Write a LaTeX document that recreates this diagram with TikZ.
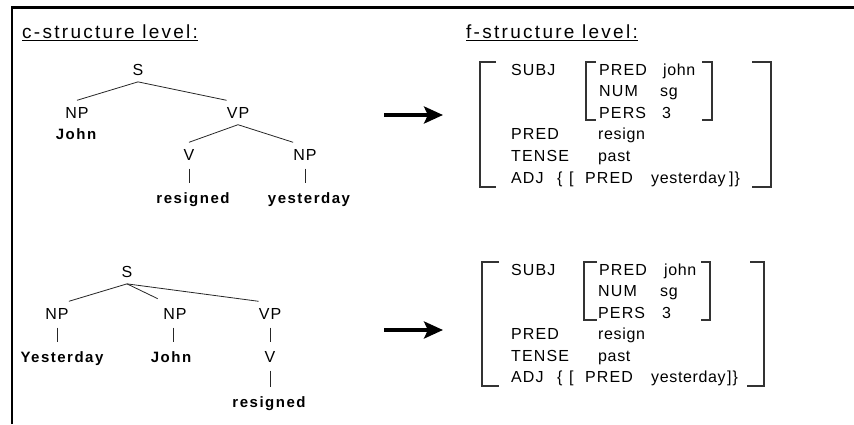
\documentclass[tikz,border=0pt]{standalone}
\usepackage{fontspec}
\setmainfont{Liberation Sans}[LetterSpace=7]
\newfontfamily\valfont{Liberation Sans}[LetterSpace=4]
\newfontfamily\wordfont{Liberation Sans}[LetterSpace=10]
\newfontfamily\headfont{Liberation Sans}[LetterSpace=12]
\usetikzlibrary{arrows.meta}

\begin{document}
\begin{tikzpicture}[x=1pt,y=-1pt,
  lab/.style={font=\fontsize{16}{16}\selectfont, inner xsep=0pt, inner ysep=6.5pt, anchor=base},
  word/.style={font=\wordfont\bfseries\fontsize{15}{15}\selectfont, inner xsep=0pt, inner ysep=6.5pt, anchor=base},
  ftext/.style={font=\fontsize{16}{16}\selectfont, inner sep=0pt, anchor=base west},
  fval/.style={ftext, font=\valfont\fontsize{16}{16}\selectfont},
  head/.style={font=\headfont\fontsize{19}{19}\selectfont, inner xsep=0pt, inner ysep=2.5pt, anchor=base west},
  branch/.style={line width=0.8pt, draw=black!85},
  tick/.style={branch, shorten <=2pt, shorten >=2pt},
  brack/.style={line width=1.2pt, draw=black!80},
  frameline/.style={line width=2.2pt},
  maparrow/.style={line width=3.8pt, -{Stealth[length=19pt,width=17pt,inset=4pt]}}
]
\useasboundingbox (0,0) rectangle (854,424);

% frame along the top and left edges
\draw[frameline] (12,424) -- (12,7.5) -- (856,7.5);

% headings
\node[head] (hc) at (22,38) {c-structure level:};
\node[head] (hf) at (466,38) {f-structure level:};
\draw[line width=1.2pt] (hc.south west) -- (hc.south east);
\draw[line width=1.2pt] (hf.south west) -- (hf.south east);

% ---------- first c-structure tree ----------
\node[lab]  (s1)   at (138,75)  {S};
\node[lab]  (np1)  at (77,118)  {NP};
\node[word] (john1) at (76,139) {John};
\node[lab]  (vp1)  at (238,118) {VP};
\node[lab]  (v1)   at (189,160) {V};
\node[lab]  (np1b) at (305,160) {NP};
\node[word] (res1) at (193,203) {resigned};
\node[word] (yes1) at (309,203) {yesterday};

\draw[branch] (s1.south) -- (np1.north);
\draw[branch] (s1.south) -- (vp1.north west);
\draw[branch] (vp1.south) -- (v1.north);
\draw[branch] (vp1.south) -- (np1b.north west);
\draw[tick] (v1.south) -- (v1.south |- res1.north);
\draw[tick] (np1b.south) -- (np1b.south |- yes1.north);

% ---------- second c-structure tree ----------
\node[lab]  (s2)   at (127,277) {S};
\node[lab]  (np2a) at (57,319)  {NP};
\node[lab]  (np2b) at (175,319) {NP};
\node[lab]  (vp2)  at (270,319) {VP};
\node[word] (yest2) at (62,362) {Yesterday};
\node[word] (john2) at (171,362) {John};
\node[lab]  (v2)   at (270,362) {V};
\node[word] (res2) at (269,407) {resigned};

\draw[branch] (s2.south) -- (np2a.north east);
\draw[branch, shorten >=6pt] (s2.south) -- (np2b.north west);
\draw[branch] (s2.south) -- (vp2.north west);
\draw[tick] (np2a.south) -- (np2a.south |- yest2.north);
\draw[tick] ([xshift=-2pt]np2b.south) -- ([xshift=-2pt]np2b.south |- john2.north);
\draw[tick] (vp2.south) -- (v2.north);
\draw[tick] (v2.south) -- (v2.south |- res2.north);

% ---------- mapping arrows ----------
\coordinate (a1s) at (384,115);
\coordinate (a1e) at (443,115);
\coordinate (a2s) at (384,330);
\coordinate (a2e) at (443,330);
\draw[maparrow] (a1s) -- (a1e);
\draw[maparrow] (a2s) -- (a2e);

% ---------- first f-structure ----------
\node[ftext] (f1subj)   at (511,75)    {SUBJ};
\node[ftext] (f1spred)  at (599,75)    {PRED};
\node[fval]  (f1john)   at (663,75)    {john};
\node[ftext] (f1num)    at (599,96.6)  {NUM};
\node[fval]  (f1sg)     at (660,96.6)  {sg};
\node[ftext] (f1pers)   at (599,118.2) {PERS};
\node[fval]  (f1three)  at (662,118.2) {3};
\node[ftext] (f1pred)   at (511,139.8) {PRED};
\node[fval]  (f1resign) at (598,139.8) {resign};
\node[ftext] (f1tense)  at (511,161.4) {TENSE};
\node[fval]  (f1past)   at (598,161.4) {past};
\node[ftext] (f1adj)    at (511,183)   {ADJ};
\node[ftext] (f1brace)  at (557,183)   {\{};
\node[ftext] (f1lb)     at (569,183)   {[};
\node[ftext] (f1apred)  at (585,183)   {PRED};
\node[fval]  (f1yest)   at (651,183)   {yesterday};
\node[ftext] (f1close)  at ([xshift=3pt]f1yest.base east) {]\}};

\draw[brack] (496,62) -- (480,62) -- (480,187) -- (496,187);
\draw[brack] (752,62) -- (771,62) -- (771,187) -- (752,187);
\draw[brack] (596,62) -- (586,62) -- (586,120) -- (596,120);
\draw[brack] (702,62) -- (712,62) -- (712,120) -- (702,120);

% ---------- second f-structure ----------
\node[ftext] (f2subj)   at (511,275)   {SUBJ};
\node[ftext] (f2spred)  at (599,275)   {PRED};
\node[fval]  (f2john)   at (664,275)   {john};
\node[ftext] (f2num)    at (598,296.5) {NUM};
\node[fval]  (f2sg)     at (660,296.5) {sg};
\node[ftext] (f2pers)   at (598,318)   {PERS};
\node[fval]  (f2three)  at (662,318)   {3};
\node[ftext] (f2pred)   at (511,339.5) {PRED};
\node[fval]  (f2resign) at (598,339.5) {resign};
\node[ftext] (f2tense)  at (511,361)   {TENSE};
\node[fval]  (f2past)   at (598,361)   {past};
\node[ftext] (f2adj)    at (511,382.5) {ADJ};
\node[ftext] (f2brace)  at (557,382.5) {\{};
\node[ftext] (f2lb)     at (569,382.5) {[};
\node[ftext] (f2apred)  at (585,382.5) {PRED};
\node[fval]  (f2yest)   at (651,382.5) {yesterday};
\node[ftext] (f2close)  at ([xshift=1pt]f2yest.base east) {]\}};

\draw[brack] (499,262) -- (482,262) -- (482,386) -- (499,386);
\draw[brack] (750,262) -- (764,262) -- (764,386) -- (747,386);
\draw[brack] (597,262) -- (584,262) -- (584,320) -- (597,320);
\draw[brack] (701,262) -- (710,262) -- (710,320) -- (701,320);
\end{tikzpicture}
\end{document}
